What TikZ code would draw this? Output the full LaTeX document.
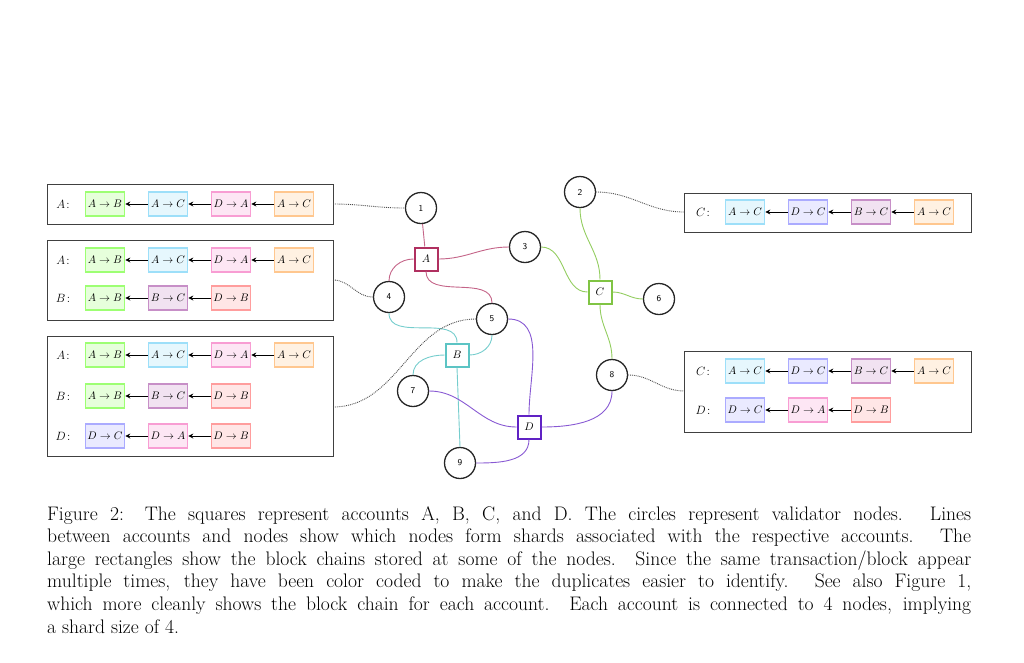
\documentclass[tikz,border=0pt]{standalone}
\usepackage{amsmath}
\usetikzlibrary{arrows.meta}
\definecolor{accA}{HTML}{B03060}
\definecolor{accB}{HTML}{5CC4C4}
\definecolor{accC}{HTML}{80C444}
\definecolor{accD}{HTML}{6022C4}
\tikzset{
  blk/.style={draw=#1!55, fill=#1!14, line width=1.6pt, minimum width=39pt, minimum height=24pt, inner sep=1pt, font=\fontsize{10.5}{11}\selectfont},
  acc/.style={draw=#1, fill=white, line width=2pt, minimum size=23pt, inner sep=0pt, font=\fontsize{11}{12}\selectfont},
  vnode/.style={circle, draw=black!85, line width=1.3pt, minimum size=31pt, inner sep=0pt, font=\sffamily\fontsize{9}{10}\selectfont},
  store/.style={draw=black!75, line width=0.8pt},
  link/.style={line width=0.9pt},
  dots/.style={densely dotted, line width=0.9pt, black!70},
  back/.style={-{Stealth[length=5pt,width=5pt]}, line width=0.8pt}
}
\colorlet{cAB}{green!60!lime}
\colorlet{cAC}{cyan!70}
\colorlet{cDA}{magenta!70}
\colorlet{cACo}{orange!80}
\colorlet{cBC}{violet!80}
\colorlet{cDB}{red!70}
\colorlet{cDC}{blue!60}
% chain row: name, x of label, y, list of colour/text
\newcommand{\chainrow}[4]{%
  \node[font=\fontsize{12}{13}\selectfont] (#1l) at (#2,#3) {$#1\!:$};
  \foreach \cl/\tx [count=\i] in {#4} {
    \node[blk=\cl] (#1\i) at ({#2+42+(\i-1)*63},#3) {$\tx$};
    \ifnum\i>1
      \pgfmathtruncatemacro\j{\i-1}
      \draw[back] (#1\i.west) -- (#1\j.east);
    \fi
  }%
}
\begin{document}
\begin{tikzpicture}[x=1pt,y=-1pt]
\useasboundingbox (0,0) rectangle (1024,662);

% stored chains, left
\draw[store] (47,184) rectangle (333,224);
\draw[store] (47,240) rectangle (333,320);
\draw[store] (47,336) rectangle (333,456);
\coordinate (s1) at (333,204);
\coordinate (s2) at (333,280);
\coordinate (s3) at (333,407);
\begin{scope}[name prefix=a-]
\chainrow{A}{63}{204}{cAB/A\to B, cAC/A\to C, cDA/D\to A, cACo/A\to C}
\end{scope}
\begin{scope}[name prefix=b-]
\chainrow{A}{63}{260}{cAB/A\to B, cAC/A\to C, cDA/D\to A, cACo/A\to C}
\chainrow{B}{63}{298}{cAB/A\to B, cBC/B\to C, cDB/D\to B}
\end{scope}
\begin{scope}[name prefix=c-]
\chainrow{A}{63}{355}{cAB/A\to B, cAC/A\to C, cDA/D\to A, cACo/A\to C}
\chainrow{B}{63}{396}{cAB/A\to B, cBC/B\to C, cDB/D\to B}
\chainrow{D}{63}{436}{cDC/D\to C, cDA/D\to A, cDB/D\to B}
\end{scope}

% stored chains, right
\draw[store] (684,193) rectangle (971,232);
\draw[store] (684,351) rectangle (971,432);
\coordinate (s4) at (684,212);
\coordinate (s5) at (684,391);
\begin{scope}[name prefix=d-]
\chainrow{C}{703}{212}{cAC/A\to C, cDC/D\to C, cBC/B\to C, cACo/A\to C}
\end{scope}
\begin{scope}[name prefix=e-]
\chainrow{C}{703}{371}{cAC/A\to C, cDC/D\to C, cBC/B\to C, cACo/A\to C}
\chainrow{D}{703}{410}{cDC/D\to C, cDA/D\to A, cDB/D\to B}
\end{scope}

% validators
\node[vnode] (n1) at (421,208) {1};
\node[vnode] (n2) at (580,192) {2};
\node[vnode] (n3) at (525,247) {3};
\node[vnode] (n4) at (389,297) {4};
\node[vnode] (n5) at (492,319) {5};
\node[vnode] (n6) at (659,299) {6};
\node[vnode] (n7) at (413,391) {7};
\node[vnode] (n8) at (612,375) {8};
\node[vnode] (n9) at (460,463) {9};

% accounts
\node[acc=accA] (A) at (426,259) {$A$};
\node[acc=accB] (B) at (457,355) {$B$};
\node[acc=accC] (C) at (600,292) {$C$};
\node[acc=accD] (D) at (529,427) {$D$};

% shards
\draw[link, accA!75] (A) -- (n1);
\draw[link, accA!75] (A.east) to[out=0,in=180] (n3.west);
\draw[link, accA!75] (A.west) to[out=180,in=90] (n4.north);
\draw[link, accA!75] (A.south) to[out=-90,in=90] (n5.north);
\draw[link, accB!85] (B.north) to[out=90,in=-90] (n4.south);
\draw[link, accB!85] (B.east) to[out=0,in=-90] (n5.south);
\draw[link, accB!85] (B.west) to[out=180,in=90] (n7.north);
\draw[link, accB!85] (B.south) -- (n9.north);
\draw[link, accC!85] (C.north) to[out=90,in=-90] (n2.south);
\draw[link, accC!85] (C.west) to[out=180,in=0] (n3.east);
\draw[link, accC!85] (C.east) to[out=0,in=180] (n6.west);
\draw[link, accC!85] (C.south) to[out=-90,in=90] (n8.north);
\draw[link, accD!75] (D.north) to[out=90,in=0] (n5.east);
\draw[link, accD!75] (D.west) to[out=180,in=0] (n7.east);
\draw[link, accD!75] (D.east) to[out=0,in=-90] (n8.south);
\draw[link, accD!75] (D.south) to[out=-90,in=0] (n9.east);

% storage links
\draw[dots] (s1) to[out=0,in=180] (n1.west);
\draw[dots] (s2) to[out=0,in=180] (n4.west);
\draw[dots] (s3) to[out=0,in=180] (n5.west);
\draw[dots] (n2.east) to[out=0,in=180] (s4);
\draw[dots] (n8.east) to[out=0,in=180] (s5);

% caption
\node[anchor=north west, inner sep=0pt, text width=924pt, align=justify,
  font=\fontsize{19.6}{22.6}\selectfont] (cap) at (47,506) {%
Figure 2: The squares represent accounts A, B, C, and D. The circles represent validator nodes. Lines\linebreak
between accounts and nodes show which nodes form shards associated with the respective accounts. The\linebreak
large rectangles show the block chains stored at some of the nodes. Since the same transaction/block appear\linebreak
multiple times, they have been color coded to make the duplicates easier to identify. See also Figure 1,\linebreak
which more cleanly shows the block chain for each account. Each account is connected to 4 nodes, implying\linebreak
a shard size of 4.\par};
\end{tikzpicture}
\end{document}
